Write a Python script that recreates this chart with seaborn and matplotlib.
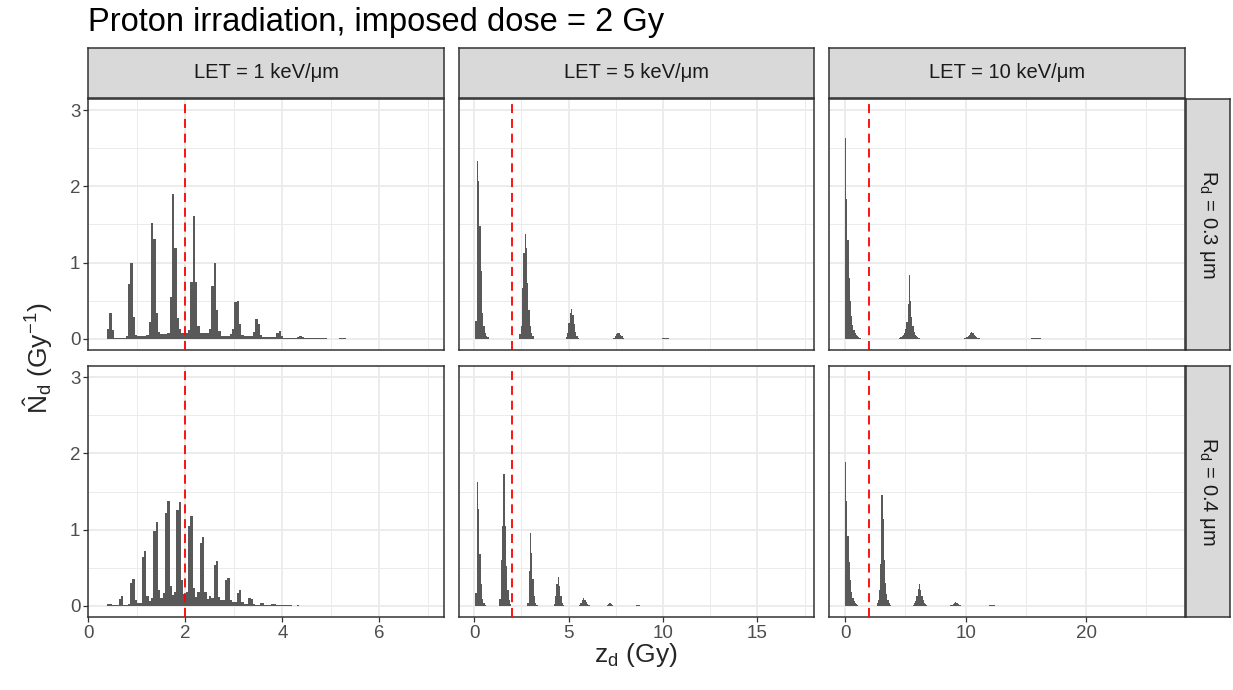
import numpy as np
import pandas as pd
import matplotlib
matplotlib.use("Agg")
import matplotlib.pyplot as plt
from matplotlib.ticker import FixedLocator
import seaborn as sns

# ---- data: histogram heights (Gy^-1) ----
# LET = 1 keV/um : contiguous bins starting at z = 0.384 Gy, width 0.048 Gy
let1_start = 0.384
let1_width = 0.048
let1_r03 = [0.13, 0.33, 0.11, 0.01, 0.01, 0.01, 0.01, 0.01, 0.03,
            0.72, 0.99, 0.28, 0.05, 0.035, 0.035, 0.035, 0.035, 0.05,
            0.22, 1.52, 1.31, 0.33, 0.09, 0.065, 0.065, 0.065, 0.08,
            0.55, 1.90, 1.19, 0.27, 0.12, 0.08, 0.08, 0.08, 0.11,
            0.75, 1.61, 0.75, 0.17, 0.07, 0.07, 0.07, 0.07, 0.13,
            0.69, 1.00, 0.38, 0.10, 0.04, 0.04, 0.04, 0.04, 0.06,
            0.12, 0.48, 0.50, 0.19, 0.05, 0.035, 0.035, 0.035, 0.04,
            0.09, 0.26, 0.19, 0.05, 0.015, 0.015, 0.015, 0.015, 0.015, 0.015,
            0.07, 0.10, 0.035, 0.005, 0.005, 0.005, 0.005, 0.005, 0.005,
            0.02, 0.035, 0.015, 0.005, 0.005, 0.005, 0.005, 0.005,
            0.005, 0.005, 0.005, 0.005, 0.005, 0, 0, 0, 0, 0,
            0.005, 0.005, 0.005]
let1_r04 = [0.02, 0.02, 0.005, 0.005, 0.01, 0.09, 0.12, 0.01, 0.01, 0.02,
            0.30, 0.35, 0.07, 0.03, 0.04,
            0.64, 0.72, 0.13, 0.06,
            0.10, 0.98, 1.10, 0.20, 0.10,
            0.16, 1.22, 1.37, 0.26, 0.14,
            0.18, 1.26, 1.36, 0.33, 0.15,
            0.18, 1.04, 1.18, 0.23, 0.11,
            0.18, 0.82, 0.90, 0.18, 0.09,
            0.13, 0.10, 0.54, 0.59, 0.11,
            0.075, 0.075, 0.33, 0.36, 0.075,
            0.05, 0.05, 0.16, 0.20, 0.05,
            0.02, 0.02, 0.10, 0.09, 0.02,
            0.01, 0.01, 0.035, 0.035, 0.005,
            0.005, 0.005, 0.015, 0.015, 0.005,
            0.005, 0.005, 0.005, 0.005, 0.005, 0.005, 0, 0, 0.005]

# LET = 5 keV/um : peaks given as (first bin left edge, heights), width 0.07 Gy
let5_width = 0.07
let5_r03 = [(0.07, [0.23, 2.33, 2.07, 1.48, 0.89, 0.34, 0.17, 0.08, 0.03, 0.015]),
            (2.38, [0.06, 0.17, 0.67, 1.13, 1.37, 1.19, 0.73, 0.38, 0.17, 0.07, 0.03]),
            (4.83, [0.02, 0.07, 0.20, 0.34, 0.39, 0.31, 0.19, 0.09, 0.03, 0.01]),
            (7.35, [0.01, 0.03, 0.06, 0.08, 0.07, 0.05, 0.03, 0.01]),
            (9.94, [0.005, 0.01, 0.012, 0.01, 0.005])]
let5_r04 = [(0.07, [0.17, 1.62, 1.27, 0.68, 0.28, 0.09, 0.03, 0.01]),
            (1.33, [0.09, 0.60, 1.05, 1.73, 1.05, 0.52, 0.20, 0.07, 0.02]),
            (2.80, [0.04, 0.46, 0.95, 0.69, 0.35, 0.13, 0.04, 0.01]),
            (4.20, [0.02, 0.12, 0.28, 0.37, 0.26, 0.12, 0.04, 0.01]),
            (5.53, [0.01, 0.03, 0.07, 0.10, 0.08, 0.05, 0.02, 0.01]),
            (7.00, [0.01, 0.02, 0.03, 0.02, 0.01]),
            (8.54, [0.005, 0.008, 0.005])]

# LET = 10 keV/um : width 0.1 Gy
let10_width = 0.1
let10_r03 = [(0.0, [2.64, 1.83, 1.29, 0.80, 0.50, 0.30, 0.18, 0.11, 0.07, 0.05, 0.03, 0.02, 0.01]),
             (4.5, [0.01, 0.02, 0.03, 0.05, 0.08, 0.13, 0.22, 0.45, 0.83, 0.50, 0.28,
                    0.16, 0.09, 0.05, 0.03, 0.02, 0.01]),
             (9.9, [0.005, 0.01, 0.02, 0.03, 0.05, 0.07, 0.09, 0.07, 0.05, 0.03, 0.02, 0.01, 0.005]),
             (15.5, [0.004, 0.005, 0.006, 0.006, 0.005, 0.004, 0.003, 0.002])]
let10_r04 = [(0.0, [1.89, 1.38, 0.92, 0.57, 0.33, 0.18, 0.10, 0.06, 0.03, 0.02, 0.01]),
             (2.6, [0.03, 0.08, 0.20, 0.55, 1.46, 1.14, 0.60, 0.30, 0.15, 0.07, 0.03, 0.01]),
             (5.6, [0.01, 0.03, 0.06, 0.12, 0.22, 0.29, 0.20, 0.12, 0.07, 0.04, 0.02, 0.01]),
             (8.7, [0.005, 0.01, 0.02, 0.035, 0.045, 0.035, 0.02, 0.01, 0.005]),
             (11.9, [0.003, 0.005, 0.005, 0.004, 0.003])]

let_labels = ["LET = 1 keV/\u03bcm", "LET = 5 keV/\u03bcm", "LET = 10 keV/\u03bcm"]
rd_labels = ["$\\mathrm{R_d}$ = 0.3 \u03bcm", "$\\mathrm{R_d}$ = 0.4 \u03bcm"]
imposed_dose = 2
x_limits = [(-0.01, 7.33), (-0.8, 18.0), (-1.33, 28.2)]
x_major = [[0, 2, 4, 6], [0, 5, 10, 15], [0, 10, 20]]
x_minor = [[1, 3, 5, 7], [2.5, 7.5, 12.5, 17.5], [5, 15, 25]]


def contiguous(start, width, heights):
    rows = []
    for k, h in enumerate(heights):
        rows.append((start + (k + 0.5) * width, h))
    return rows


def from_peaks(width, peaks):
    rows = []
    for start, heights in peaks:
        rows += contiguous(start, width, heights)
    return rows


panels = {
    (0, 0): (contiguous(let1_start, let1_width, let1_r03), let1_width),
    (1, 0): (contiguous(let1_start, let1_width, let1_r04), let1_width),
    (0, 1): (from_peaks(let5_width, let5_r03), let5_width),
    (1, 1): (from_peaks(let5_width, let5_r04), let5_width),
    (0, 2): (from_peaks(let10_width, let10_r03), let10_width),
    (1, 2): (from_peaks(let10_width, let10_r04), let10_width),
}

sns.set_theme(style="white")
plt.rcParams["font.family"] = ["Liberation Sans", "DejaVu Sans"]
plt.rcParams["mathtext.fontset"] = "custom"
plt.rcParams["mathtext.rm"] = "Liberation Sans"
plt.rcParams["mathtext.it"] = "Liberation Sans:italic"
plt.rcParams["mathtext.bf"] = "Liberation Sans:bold"

W, H = 1233, 690
fig = plt.figure(figsize=(W / 100, H / 100), dpi=100)
fig.patch.set_facecolor("white")


def box(x0, y0, x1, y1):
    return [x0 / W, 1 - y1 / H, (x1 - x0) / W, (y1 - y0) / H]


cols = [(88, 444), (459, 814), (829, 1185)]
rows = [(99, 350), (366, 617)]
border = "#333333"

for (r, c), (bars, width) in panels.items():
    x0, x1 = cols[c]
    y0, y1 = rows[r]
    ax = fig.add_axes(box(x0, y0, x1, y1))
    df = pd.DataFrame(bars, columns=["z", "n"])
    sns.histplot(data=df, x="z", weights="n", binwidth=width,
                 binrange=(0, df["z"].max() + width), color="#595959",
                 alpha=1, linewidth=0, edgecolor="none", ax=ax)
    ax.axvline(imposed_dose, color="red", linestyle=(0, (5, 3.2)), linewidth=1.3, zorder=3)
    ax.set_xlim(*x_limits[c])
    ax.set_ylim(-0.15, 3.15)
    ax.xaxis.set_major_locator(FixedLocator(x_major[c]))
    ax.xaxis.set_minor_locator(FixedLocator(x_minor[c]))
    ax.yaxis.set_major_locator(FixedLocator([0, 1, 2, 3]))
    ax.yaxis.set_minor_locator(FixedLocator([0.5, 1.5, 2.5]))
    ax.grid(which="major", color="#EBEBEB", linewidth=1.3)
    ax.grid(which="minor", color="#EBEBEB", linewidth=0.7)
    ax.set_axisbelow(True)
    ax.set_xlabel("")
    ax.set_ylabel("")
    for s in ax.spines.values():
        s.set_visible(True)
        s.set_color(border)
        s.set_linewidth(1.1)
    ax.tick_params(which="minor", length=0)
    ax.tick_params(which="major", length=3.5, width=0.9, color=border,
                   labelsize=13.5, labelcolor="#4D4D4D", pad=2,
                   bottom=(r == 1), left=(c == 0),
                   labelbottom=(r == 1), labelleft=(c == 0))

# strips on top
for c, (x0, x1) in enumerate(cols):
    sax = fig.add_axes(box(x0, 48, x1, 98))
    sax.set_facecolor("#D9D9D9")
    sax.set_xticks([])
    sax.set_yticks([])
    for s in sax.spines.values():
        s.set_color(border)
        s.set_linewidth(1.1)
    sax.text(0.5, 0.5, let_labels[c], ha="center", va="center",
             fontsize=14.5, color="#1A1A1A", transform=sax.transAxes)

# strips on the right
for r, (y0, y1) in enumerate(rows):
    sax = fig.add_axes(box(1186, y0, 1230, y1))
    sax.set_facecolor("#D9D9D9")
    sax.set_xticks([])
    sax.set_yticks([])
    for s in sax.spines.values():
        s.set_color(border)
        s.set_linewidth(1.1)
    sax.text(0.5, 0.5, rd_labels[r], ha="center", va="center", rotation=-90,
             fontsize=14.5, color="#1A1A1A", transform=sax.transAxes)

fig.text(88 / W, 1 - 31 / H, "Proton irradiation, imposed dose = 2 Gy",
         fontsize=23.5, color="black", ha="left", va="baseline")
fig.text(636 / W, 1 - 655 / H, "$\\mathrm{z_d}$ (Gy)", fontsize=19,
         ha="center", va="center")
fig.text(38 / W, 1 - 358 / H, "$\\hat{\\mathrm{N}}_{\\mathrm{d}}$ (Gy$^{-1}$)",
         fontsize=19, rotation=90, ha="center", va="center")

fig.savefig("out.png", dpi=100)
